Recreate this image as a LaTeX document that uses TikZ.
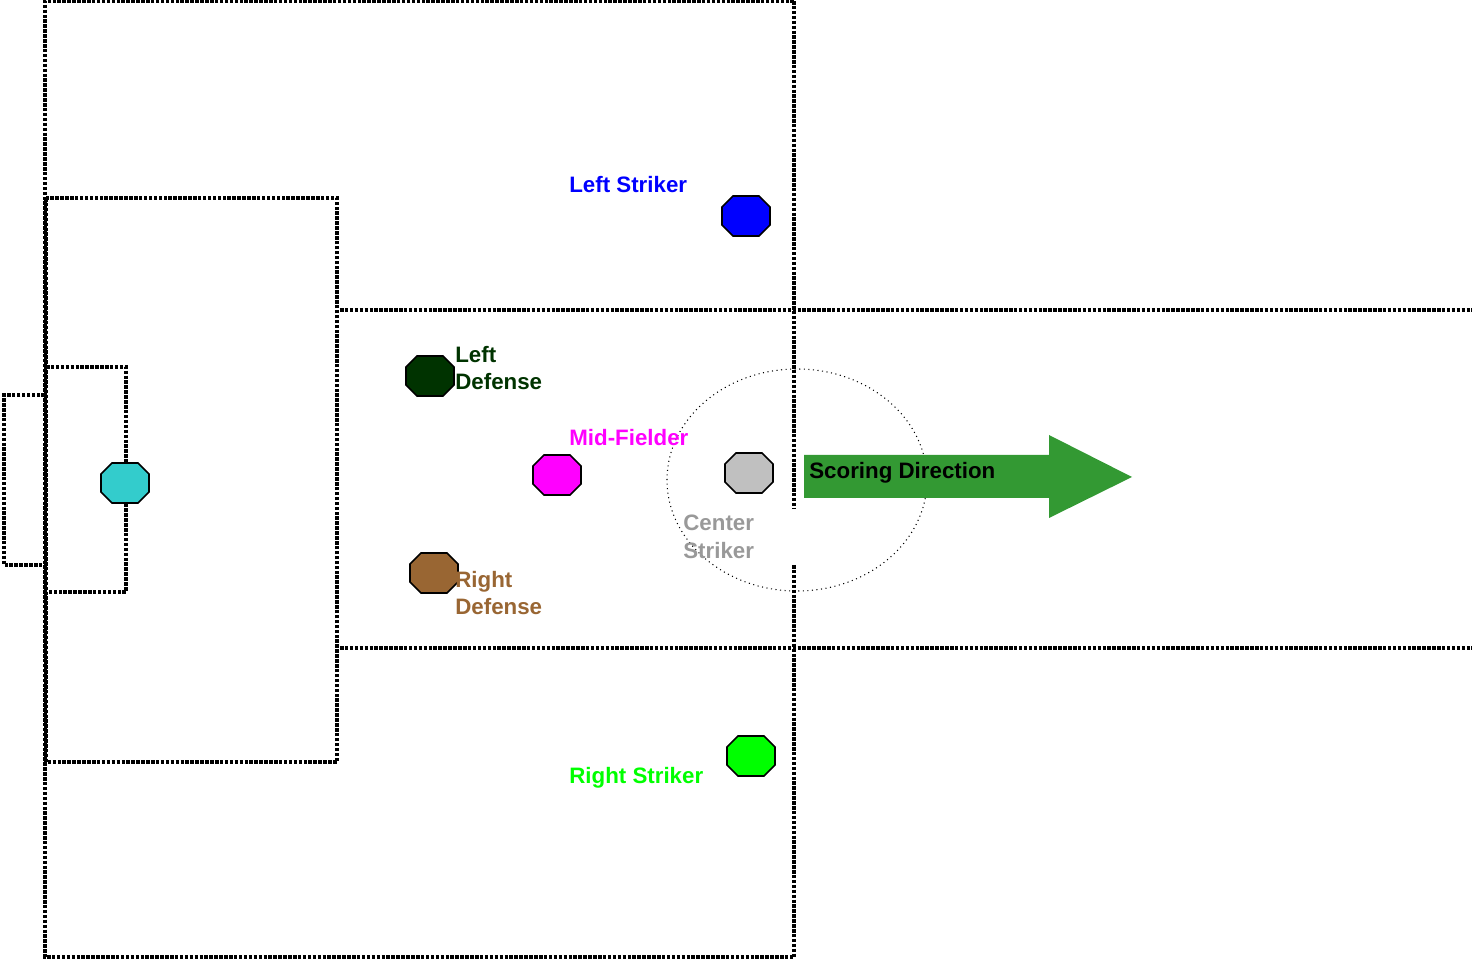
\documentclass[tikz,border=0pt]{standalone}
\usepackage{fontspec}
\setmainfont{Liberation Sans}
\definecolor{gardien}{HTML}{33CCCC}
\definecolor{defG}{HTML}{003300}
\definecolor{defD}{HTML}{996633}
\definecolor{milieu}{HTML}{FF00FF}
\definecolor{centre}{HTML}{C0C0C0}
\definecolor{texteCentre}{HTML}{999999}
\definecolor{vertFleche}{HTML}{339933}

\begin{document}
\begin{tikzpicture}[x=0.02cm, y=-0.02cm]
	\tikzset{ligne/.style={line width=2.2pt, dash pattern=on 2pt off 0.8pt},
	rond/.style={line width=0.6pt, dotted},
	joueur/.style={line width=0.9pt, draw=black},
	etiquette/.style={font=\bfseries\fontsize{12.7}{15.9}\selectfont, inner sep=0pt, anchor=west, align=left}};

	\useasboundingbox (0,0) rectangle (1472,959);

	% terrain
	\draw[ligne] (794,1) -- (45,1) -- (45,957) -- (794,957);
	\draw[ligne] (794,1) -- (794,508);
	\draw[ligne] (794,565) -- (794,957);
	\draw[ligne] (46,198) rectangle (337,762);
	\draw[ligne] (46,367) -- (126,367) -- (126,592) -- (46,592);
	\draw[ligne] (45,395) -- (4,395) -- (4,565) -- (45,565);
	\draw[ligne] (340,310) -- (1472,310);
	\draw[ligne] (340,648) -- (1472,648);
	\draw[rond] (797,480) ellipse [x radius=130, y radius=111];

	% fleche
	\fill[vertFleche] (804,455) -- (1049,455) -- (1049,435) -- (1132,477) -- (1049,518) -- (1049,498) -- (804,498) -- cycle;
	\node[etiquette] (sens) at (809,473) {Scoring Direction};

	% joueurs
	\foreach \name/\x/\y/\couleur in {gk/125/483/gardien, ls/746/216/blue, ld/430/376/defG, mf/557/475/milieu, cs/749/473/centre, rd/434/573/defD, rs/751/756/green}{
		\coordinate (\name) at (\x,\y);
		\draw[joueur, fill=\couleur] (\x-13,\y-20) -- (\x+13,\y-20) -- (\x+24,\y-9) -- (\x+24,\y+9) -- (\x+13,\y+20) -- (\x-13,\y+20) -- (\x-24,\y+9) -- (\x-24,\y-9) -- cycle;
	}

	\node[etiquette, text=blue] (n-ls) at (569,185) {Left Striker};
	\node[etiquette, text=defG] (n-ld) at (455,368) {Left\\Defense};
	\node[etiquette, text=milieu] (n-mf) at (569,438) {Mid-Fielder};
	\node[etiquette, text=texteCentre] (n-cs) at (683,537) {Center\\Striker};
	\node[etiquette, text=defD] (n-rd) at (455,593) {Right\\Defense};
	\node[etiquette, text=green] (n-rs) at (569,778) {Right Striker};

\end{tikzpicture}
\end{document}
